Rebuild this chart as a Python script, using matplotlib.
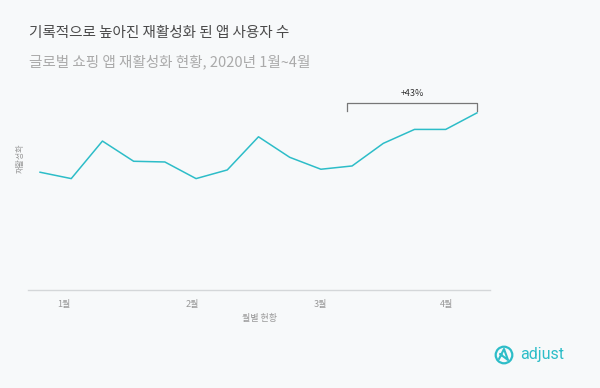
import matplotlib
matplotlib.use("Agg")
import matplotlib.pyplot as plt
from matplotlib.patches import Circle

plt.rcParams['font.family'] = ['Noto Sans CJK KR', 'DejaVu Sans']

weeks = list(range(15))
values = [118.4, 112.0, 149.7, 129.4, 128.7, 112.0, 120.7, 154.0, 133.4,
          121.4, 124.7, 147.4, 161.4, 161.4, 178.0]
month_labels = ['1월', '2월', '3월', '4월']
month_pos = [0.77, 4.87, 8.97, 13.04]
title = '기록적으로 높아진 재활성화 된 앱 사용자 수'
subtitle = '글로벌 쇼핑 앱 재활성화 현황, 2020년 1월~4월'
xlabel = '월별 현황'
ylabel = '재활성화'
growth_label = '+43%'
bracket_start, bracket_end = 10, 14

bg = '#f7f9fa'
teal = '#2dbdc8'

fig = plt.figure(figsize=(6, 3.88), dpi=100, facecolor=bg)
ax = fig.add_axes([0.0467, 0.2523, 0.77, 0.515], facecolor=bg)

ax.plot(weeks, values, color=teal, lw=1.1)
ax.set_xlim(-0.385, 14.42)
ax.set_ylim(0, 200.7)

for s in ['top', 'right', 'left']:
    ax.spines[s].set_visible(False)
ax.spines['bottom'].set_color('#d4d7d9')
ax.spines['bottom'].set_linewidth(1.0)
ax.set_yticks([])
ax.set_xticks(month_pos)
ax.set_xticklabels(month_labels, fontsize=6.5, color='#999999')
ax.tick_params(axis='x', length=0, pad=7)
ax.set_xlabel(xlabel, fontsize=6.5, color='#999999', labelpad=4)
ax.set_ylabel(ylabel, fontsize=5.8, color='#999999')
ax.yaxis.set_label_coords(-0.007, 0.66)

# bracket annotation
y_top = 187.5
y_leg = 180.0
x0 = bracket_start - 0.16
x1 = bracket_end
ax.plot([x0, x0, x1, x1], [y_leg, y_top, y_top, y_leg], color='#777777', lw=0.9,
        clip_on=False)
ax.text((x0 + x1) / 2, y_top + 5, growth_label, ha='center', va='bottom',
        fontsize=6.5, color='#333333')

fig.text(29 / 600, 1 - 33 / 388, title, fontsize=10.5, color='#4a4a4a',
         va='center', ha='left')
fig.text(29 / 600, 1 - 61.5 / 388, subtitle, fontsize=10.5, color='#aaaaaa',
         va='center', ha='left')

# logo
logo_ax = fig.add_axes([0, 0, 1, 1], facecolor='none')
logo_ax.set_xlim(0, 600)
logo_ax.set_ylim(388, 0)
logo_ax.axis('off')
logo_ax.add_patch(Circle((504, 355), 8.3, fill=False, ec=teal, lw=1.6))
logo_ax.plot([499, 504, 508, 500], [359, 349, 360, 354], color=teal, lw=1.5,
             solid_capstyle='round', solid_joinstyle='round')
logo_ax.text(520, 354, 'adjust', fontsize=11.5, color=teal, va='center', ha='left',
             family='Roboto', fontstretch='condensed')

fig.savefig('out.png', dpi=100, facecolor=bg)
